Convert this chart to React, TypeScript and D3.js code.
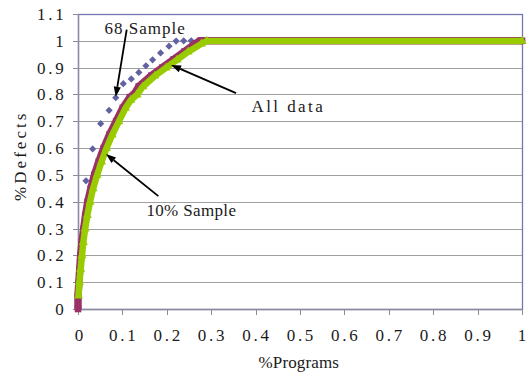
import * as d3 from 'd3';

// tick labels
const xTickValues = [0, 0.1, 0.2, 0.3, 0.4, 0.5, 0.6, 0.7, 0.8, 0.9, 1];
const xTickLabels = ['0', '0.1', '0.2', '0.3', '0.4', '0.5', '0.6', '0.7', '0.8', '0.9', '1'];
const yTickValues = [0, 0.1, 0.2, 0.3, 0.4, 0.5, 0.6, 0.7, 0.8, 0.9, 1, 1.1];
const yTickLabels = ['0', '0.1', '0.2', '0.3', '0.4', '0.5', '0.6', '0.7', '0.8', '0.9', '1', '1.1'];

// "68 Sample" (diamonds)
const sample68X = [0.018, 0.033, 0.051, 0.07, 0.085, 0.102, 0.12, 0.137, 0.153, 0.168, 0.186, 0.205, 0.221, 0.238, 0.255, 0.272, 1];
const sample68Y = [0.478, 0.597, 0.691, 0.741, 0.788, 0.84, 0.858, 0.882, 0.907, 0.929, 0.955, 0.98, 0.999, 1, 1, 1, 1];

// "All data" (squares)
const allDataX = [0, 0, 0.002, 0.004, 0.006, 0.009, 0.013, 0.017, 0.022, 0.029, 0.037, 0.047, 0.058, 0.071, 0.086, 0.101, 0.117, 0.126, 0.137, 0.165, 0.19, 0.215, 0.24, 0.265, 0.275, 1];
const allDataY = [0, 0.05, 0.1, 0.15, 0.2, 0.25, 0.3, 0.35, 0.4, 0.45, 0.5, 0.55, 0.6, 0.65, 0.7, 0.75, 0.79, 0.8, 0.83, 0.87, 0.9, 0.93, 0.96, 0.99, 1, 1];

// "10% Sample" (triangles)
const sample10X = [0.001, 0.003, 0.006, 0.009, 0.012, 0.016, 0.021, 0.027, 0.034, 0.043, 0.053, 0.064, 0.077, 0.092, 0.107, 0.119, 0.133, 0.146, 0.173, 0.198, 0.223, 0.248, 0.278, 0.29, 1];
const sample10Y = [0.05, 0.1, 0.15, 0.2, 0.25, 0.3, 0.35, 0.4, 0.45, 0.5, 0.55, 0.6, 0.65, 0.7, 0.75, 0.78, 0.8, 0.83, 0.87, 0.9, 0.93, 0.96, 0.99, 1, 1];

// callouts: label (left edge), arrow start, arrow tip (data units)
const callouts = [
  { text: '68 Sample', lx: 0.0586, ly: 1.025, x1: 0.1097, y1: 1.042, x2: 0.0849, y2: 0.7916 },
  { text: 'All data', lx: 0.3896, ly: 0.7345, x1: 0.356, y1: 0.805, x2: 0.2095, y2: 0.91 },
  { text: '10% Sample', lx: 0.153, ly: 0.3486, x1: 0.181, y1: 0.421, x2: 0.063, y2: 0.578 },
];

const FONT = '"Liberation Serif", "DejaVu Serif", serif';
const ADV = 9.1; // half-width advance of the original font

// numbers: one glyph per fixed-width cell
function Mono({ s, left, y }: { s: string; left: number; y: number }) {
  return (
    <text y={y} fontFamily={FONT} fontSize={17} fill="#1a1a1a" textAnchor="middle">
      {s.split('').map((ch, i) => (
        <tspan key={i} x={left + i * ADV + ADV / 2}>{ch}</tspan>
      ))}
    </text>
  );
}

// words: stretched to the width the fixed-width font would take
function Word({ s, left, y, adv = ADV }: { s: string; left: number; y: number; adv?: number }) {
  return (
    <text x={left + 0.5} y={y} fontFamily={FONT} fontSize={17} fill="#1a1a1a"
      textLength={s.length * adv - 1.5} lengthAdjust="spacing">{s}</text>
  );
}

export default function App() {
  const width = 527;
  const height = 375;
  const margin = { top: 14, right: 5, bottom: 66, left: 78 };

  const x = d3.scaleLinear().domain([0, 1]).range([margin.left, width - margin.right]);
  const y = d3.scaleLinear().domain([0, 1.1]).range([height - margin.bottom, margin.top]);

  const pts = (xs: number[], ys: number[]) => xs.map((v, i) => [x(v), y(ys[i])] as [number, number]);
  const line = d3.line();

  const p68 = pts(sample68X, sample68Y);
  const pAll = pts(allDataX, allDataY);
  const p10 = pts(sample10X, sample10Y);

  const diamond = d3.symbol(d3.symbolSquare, 26)()!;
  const square = d3.symbol(d3.symbolSquare, 44)()!;
  const triangle = d3.symbol(d3.symbolTriangle, 36)()!;

  const [x0, x1] = x.range();
  const [y0, y1] = y.range();

  const arrow = (c: (typeof callouts)[number]) => {
    const sx = x(c.x1), sy = y(c.y1), tx = x(c.x2), ty = y(c.y2);
    const ang = Math.atan2(ty - sy, tx - sx);
    const len = 10, half = 3.6;
    const bx = tx - len * Math.cos(ang), by = ty - len * Math.sin(ang);
    const nx = -Math.sin(ang) * half, ny = Math.cos(ang) * half;
    return { sx, sy, bx, by, head: `M${tx},${ty}L${bx + nx},${by + ny}L${bx - nx},${by - ny}Z` };
  };

  const title = '%Programs';
  const ytitle = '%Defects';

  return (
    <svg width={width} height={height} viewBox={`0 0 ${width} ${height}`}
      style={{ position: 'absolute', left: 0, top: 0, background: '#fff' }}>
      {/* gridlines */}
      {yTickValues.filter((v) => v > 0 && v < 1.1).map((v) => (
        <line key={`g${v}`} x1={x0} x2={x1} y1={Math.round(y(v)) + 0.5} y2={Math.round(y(v)) + 0.5}
          stroke="#a0a0a0" strokeWidth={1} />
      ))}
      {/* plot border */}
      <rect x={x0 + 0.5} y={y1 + 0.5} width={x1 - x0} height={y0 - y1} fill="none" stroke="#7676b0" strokeWidth={1.3} />
      <line x1={x0} x2={x1} y1={Math.round(y0) + 0.5} y2={Math.round(y0) + 0.5} stroke="#8a8a9a" strokeWidth={1.3} />
      <line x1={x0 + 0.5} x2={x0 + 0.5} y1={y1} y2={y0} stroke="#8a8aa8" strokeWidth={1.3} />

      {/* y ticks */}
      {yTickValues.map((v, i) => (
        <g key={`y${i}`}>
          <line x1={x0 - 5} x2={x0} y1={Math.round(y(v)) + 0.5} y2={Math.round(y(v)) + 0.5} stroke="#8a8a9a" />
          <Mono s={yTickLabels[i]} left={64 - yTickLabels[i].length * ADV} y={y(v) + 6} />
        </g>
      ))}
      {/* x ticks */}
      {xTickValues.map((v, i) => (
        <g key={`x${i}`}>
          <line x1={Math.round(x(v)) + 0.5} x2={Math.round(x(v)) + 0.5} y1={y0} y2={y0 + 6} stroke="#8a8a9a" />
          <Mono s={xTickLabels[i]} left={x(v) + (i === 0 ? 1 : 0) - (xTickLabels[i].length * ADV) / 2} y={341} />
        </g>
      ))}

      {/* 68 Sample */}
      {p68.map(([px, py], i) => (
        <path key={`d${i}`} d={diamond} transform={`translate(${px},${py}) rotate(45)`} fill="#6262a2" />
      ))}

      {/* All data */}
      <path d={line(pAll)!} fill="none" stroke="#993366" strokeWidth={7.5} strokeLinejoin="miter" />
      {pAll.map(([px, py], i) => (
        <path key={`s${i}`} d={square} transform={`translate(${px},${py})`} fill="#993366" />
      ))}

      {/* 10% Sample */}
      <path d={line(p10.map(([a, b]) => [a, b + 0.3] as [number, number]))!} fill="none" stroke="#99cc00"
        strokeWidth={6.5} strokeLinejoin="miter" />
      {p10.map(([px, py], i) => (
        <path key={`t${i}`} d={triangle} transform={`translate(${px},${py + 0.3})`} fill="#99cc00" />
      ))}

      {/* callouts */}
      {callouts.map((c, i) => {
        const a = arrow(c);
        return (
          <g key={`c${i}`}>
            <Word s={c.text} left={x(c.lx)} y={y(c.ly)} />
            <line x1={a.sx} y1={a.sy} x2={a.bx} y2={a.by} stroke="#000" strokeWidth={1.8} />
            <path d={a.head} fill="#000" />
          </g>
        );
      })}

      {/* axis titles */}
      <Word s={title} left={299 - (title.length * ADV) / 2} y={368} />
      <g transform="translate(26,157) rotate(-90)">
        <Word s={ytitle} left={-(ytitle.length * 11.1) / 2} y={0} adv={11.1} />
      </g>
    </svg>
  );
}
